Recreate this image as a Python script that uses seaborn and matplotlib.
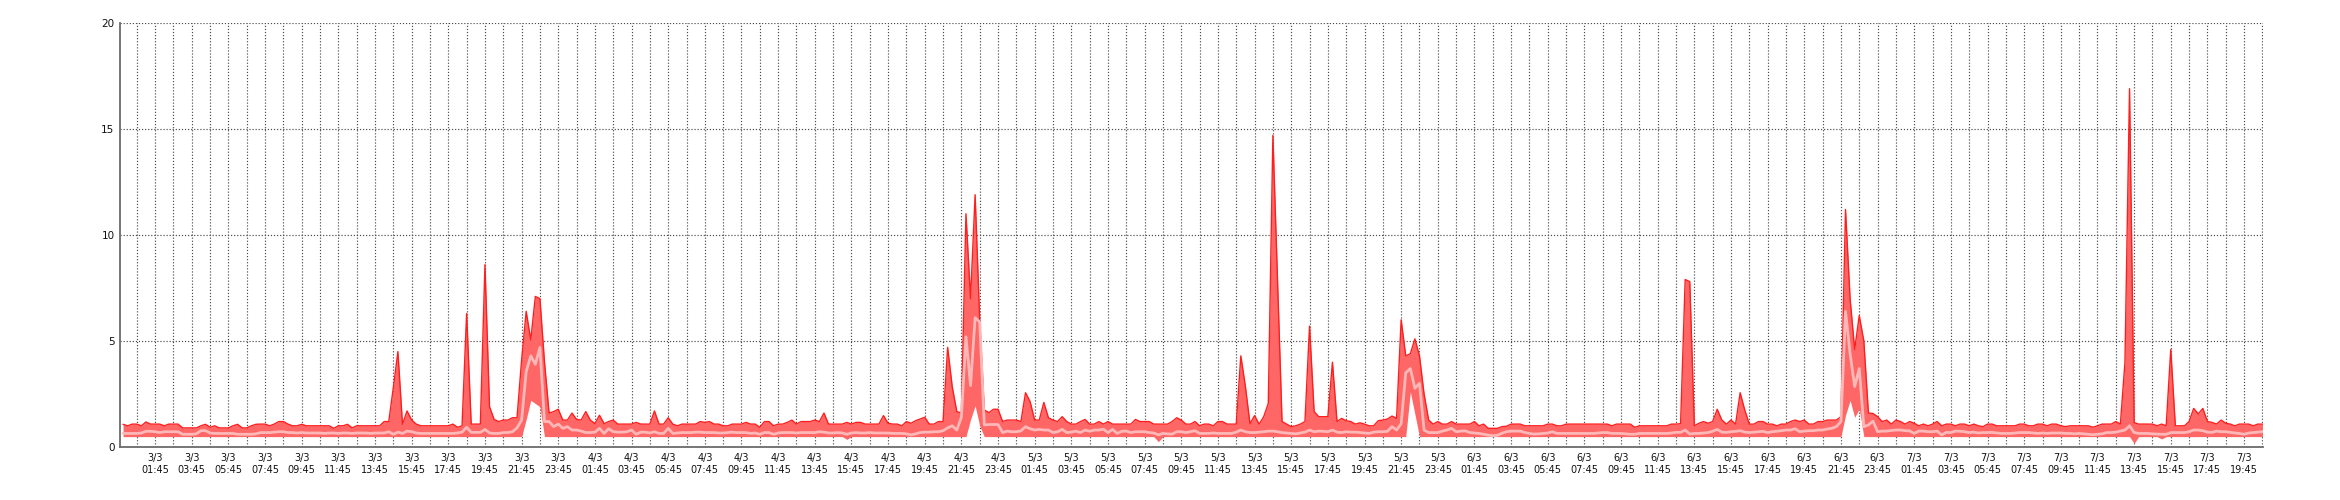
import matplotlib
matplotlib.use("Agg")
import matplotlib.pyplot as plt
import seaborn as sns
import pandas as pd
import numpy as np

# ---- data (15-minute samples starting 3/3 00:00) ----
start_time = "2024-03-03 00:00"
sample_freq = "15min"

max_vals = [
    # 3/3 00:00 - 19:30
    1.07, 1.0, 1.08, 1.08, 1.0, 1.18, 1.08, 1.08, 1.08, 1.0, 1.08, 1.08, 1.08, 0.9, 0.9, 0.9,
    0.9, 1.0, 1.07, 0.93, 1.0, 0.9, 0.9, 0.9, 1.0, 1.07, 0.9, 0.9, 1.0, 1.07, 1.08, 1.08,
    1.0, 1.08, 1.2, 1.2, 1.08, 1.0, 1.0, 1.07, 1.0, 1.0, 1.0, 1.0, 1.0, 1.0, 0.88, 1.0,
    1.0, 1.07, 0.9, 1.0, 1.0, 1.0, 1.0, 1.0, 1.0, 1.2, 1.2, 2.8, 4.5, 1.07, 1.7, 1.27,
    1.08, 1.0, 1.0, 1.0, 1.0, 1.0, 1.0, 1.0, 1.08, 0.93, 1.0, 6.3, 1.08, 1.08, 1.08,
    # q79 - q155
    8.6, 1.9, 1.3, 1.2, 1.27, 1.27, 1.38, 1.38, 4.1, 6.4, 5.05, 7.1, 7.0, 4.0, 1.6, 1.67,
    1.78, 1.27, 1.27, 1.6, 1.3, 1.27, 1.67, 1.27, 1.1, 1.5, 1.1, 1.2, 1.27, 1.08, 1.08, 1.08,
    1.08, 1.16, 1.08, 1.08, 1.08, 1.7, 1.08, 1.08, 1.38, 1.08, 1.0, 1.08, 1.08, 1.08, 1.08, 1.2,
    1.16, 1.2, 1.08, 1.08, 1.0, 1.0, 1.08, 1.08, 1.08, 1.16, 1.08, 1.08, 0.93, 1.2, 1.2, 1.0,
    1.08, 1.08, 1.16, 1.27, 1.08, 1.2, 1.2, 1.2, 1.27, 1.2, 1.6, 1.08, 1.08,
    # q156 - q234
    1.08, 1.08, 1.16, 1.08, 1.16, 1.16, 1.08, 1.08, 1.08, 1.08, 1.48, 1.12, 1.08, 1.08, 1.0, 1.2,
    1.12, 1.24, 1.32, 1.4, 1.08, 1.08, 1.2, 1.2, 4.7, 2.85, 1.67, 1.6, 11.0, 7.0, 11.9, 6.0,
    1.75, 1.62, 1.78, 1.78, 1.2, 1.27, 1.27, 1.27, 1.2, 2.56, 2.14, 1.27, 1.27, 2.1, 1.38, 1.27,
    1.2, 1.43, 1.2, 1.08, 1.08, 1.2, 1.3, 1.08, 1.08, 1.2, 1.08, 1.2, 1.08, 1.08, 1.08, 1.08,
    1.08, 1.3, 1.2, 1.2, 1.2, 1.08, 1.08, 1.08, 1.08, 1.2, 1.38, 1.27, 1.08, 1.08, 1.2,
    # q235 - q312
    1.0, 1.08, 1.08, 1.0, 1.2, 1.2, 1.08, 1.08, 1.08, 4.3, 2.85, 1.1, 1.48, 1.08, 1.43, 2.06,
    14.7, 8.0, 1.2, 1.08, 0.96, 1.0, 1.08, 1.2, 5.7, 1.67, 1.43, 1.43, 1.43, 4.0, 1.2, 1.35,
    1.24, 1.2, 1.08, 1.14, 1.08, 1.0, 1.0, 1.24, 1.27, 1.32, 1.46, 1.35, 6.0, 4.3, 4.4, 5.1,
    4.3, 2.5, 1.27, 1.08, 1.2, 1.08, 1.08, 1.2, 1.08, 1.08, 1.08, 1.08, 1.2, 1.0, 1.08, 0.88,
    0.88, 0.88, 0.96, 0.98, 1.08, 1.08, 1.08, 1.0, 1.0, 1.0, 1.0, 1.0, 1.08, 1.08,
    # q313 - q390
    1.0, 1.0, 1.08, 1.08, 1.08, 1.08, 1.08, 1.08, 1.08, 1.08, 1.08, 1.08, 1.0, 1.08, 1.08, 1.08,
    1.08, 0.93, 1.0, 1.0, 1.0, 1.0, 1.0, 1.0, 1.0, 1.08, 1.08, 1.1, 7.9, 7.8, 1.0, 1.12,
    1.2, 1.12, 1.2, 1.78, 1.27, 1.08, 1.27, 1.08, 2.56, 1.75, 1.08, 1.08, 1.2, 1.2, 1.08, 1.08,
    1.0, 1.08, 1.08, 1.2, 1.27, 1.2, 1.27, 1.08, 1.08, 1.2, 1.2, 1.27, 1.27, 1.27, 1.43, 11.2,
    7.0, 4.6, 6.2, 5.0, 1.6, 1.58, 1.43, 1.2, 1.27, 1.08, 1.27, 1.2, 1.08, 1.2,
    # q391 - q467
    1.12, 1.0, 1.08, 1.0, 1.08, 1.2, 1.0, 1.08, 1.08, 1.0, 1.08, 1.08, 1.0, 1.08, 1.0, 0.96,
    1.08, 1.08, 1.0, 1.0, 1.0, 1.0, 1.0, 1.08, 1.08, 1.0, 1.0, 1.08, 1.08, 1.0, 1.08, 1.08,
    1.0, 0.96, 1.0, 1.0, 1.0, 1.0, 1.0, 0.93, 1.0, 1.08, 1.08, 1.08, 1.2, 1.08, 4.0, 16.9,
    1.15, 1.08, 1.08, 1.08, 1.08, 1.0, 1.08, 1.0, 4.6, 1.0, 1.0, 1.0, 1.2, 1.82, 1.56, 1.82,
    1.2, 1.16, 1.08, 1.27, 1.12, 1.08, 1.0, 1.08, 1.08, 1.08, 1.0, 1.08, 1.08,
]

avg_vals = [
    # q0 - q78
    0.64, 0.64, 0.64, 0.64, 0.66, 0.74, 0.74, 0.72, 0.68, 0.72, 0.72, 0.72, 0.72, 0.6, 0.6, 0.6,
    0.62, 0.77, 0.77, 0.66, 0.64, 0.64, 0.64, 0.64, 0.64, 0.6, 0.6, 0.6, 0.6, 0.62, 0.68, 0.68,
    0.68, 0.7, 0.72, 0.72, 0.68, 0.68, 0.66, 0.68, 0.66, 0.66, 0.66, 0.66, 0.64, 0.66, 0.66, 0.64,
    0.66, 0.66, 0.64, 0.66, 0.66, 0.66, 0.64, 0.66, 0.66, 0.66, 0.72, 0.6, 0.7, 0.64, 0.75, 0.72,
    0.66, 0.64, 0.64, 0.64, 0.64, 0.64, 0.64, 0.64, 0.64, 0.66, 0.7, 0.93, 0.69, 0.69, 0.69,
    # q79 - q155
    0.83, 0.66, 0.64, 0.64, 0.68, 0.68, 0.72, 0.9, 1.27, 3.55, 4.3, 3.9, 4.7, 1.2, 1.2, 0.96,
    1.08, 0.88, 0.96, 0.8, 0.8, 0.75, 0.68, 0.68, 0.7, 0.88, 0.64, 0.86, 0.72, 0.7, 0.7, 0.72,
    0.8, 0.6, 0.7, 0.7, 0.66, 0.72, 0.64, 0.64, 0.88, 0.64, 0.66, 0.68, 0.68, 0.68, 0.7, 0.7,
    0.68, 0.68, 0.68, 0.66, 0.66, 0.68, 0.7, 0.68, 0.68, 0.68, 0.64, 0.66, 0.6, 0.68, 0.68, 0.6,
    0.66, 0.68, 0.68, 0.68, 0.66, 0.68, 0.68, 0.68, 0.68, 0.72, 0.7, 0.66, 0.66,
    # q156 - q234
    0.68, 0.66, 0.6, 0.66, 0.68, 0.66, 0.66, 0.68, 0.66, 0.66, 0.66, 0.66, 0.64, 0.64, 0.64, 0.62,
    0.57, 0.62, 0.68, 0.7, 0.7, 0.72, 0.72, 0.77, 0.9, 1.0, 0.8, 1.4, 5.2, 2.9, 6.1, 5.9,
    1.04, 1.06, 1.06, 1.06, 0.68, 0.75, 0.72, 0.72, 0.76, 0.96, 0.86, 0.8, 0.83, 0.8, 0.8, 0.68,
    0.72, 0.83, 0.68, 0.7, 0.75, 0.68, 0.8, 0.74, 0.8, 0.8, 0.84, 0.68, 0.83, 0.64, 0.74, 0.75,
    0.68, 0.72, 0.72, 0.72, 0.68, 0.66, 0.57, 0.64, 0.62, 0.61, 0.72, 0.72, 0.68, 0.72, 0.77,
    # q235 - q312
    0.64, 0.64, 0.64, 0.66, 0.64, 0.64, 0.64, 0.64, 0.7, 0.8, 0.72, 0.68, 0.68, 0.7, 0.72, 0.75,
    0.75, 0.72, 0.68, 0.66, 0.64, 0.62, 0.66, 0.7, 0.8, 0.72, 0.75, 0.74, 0.72, 0.8, 0.7, 0.68,
    0.72, 0.7, 0.7, 0.68, 0.66, 0.64, 0.7, 0.72, 0.72, 0.74, 0.96, 0.8, 1.1, 3.5, 3.7, 2.77,
    3.0, 0.8, 0.68, 0.68, 0.68, 0.75, 0.8, 0.88, 0.72, 0.75, 0.76, 0.68, 0.66, 0.64, 0.6, 0.56,
    0.53, 0.55, 0.65, 0.72, 0.75, 0.75, 0.75, 0.68, 0.64, 0.61, 0.62, 0.64, 0.66, 0.72,
    # q313 - q390
    0.64, 0.64, 0.64, 0.64, 0.64, 0.64, 0.64, 0.64, 0.64, 0.66, 0.68, 0.68, 0.64, 0.64, 0.64, 0.62,
    0.6, 0.6, 0.64, 0.64, 0.64, 0.64, 0.64, 0.64, 0.64, 0.66, 0.69, 0.69, 0.8, 0.61, 0.64, 0.64,
    0.66, 0.68, 0.74, 0.83, 0.7, 0.69, 0.72, 0.74, 0.77, 0.7, 0.68, 0.7, 0.72, 0.74, 0.68, 0.72,
    0.74, 0.77, 0.8, 0.8, 0.86, 0.72, 0.75, 0.77, 0.77, 0.8, 0.8, 0.85, 0.88, 0.96, 1.2, 6.4,
    4.4, 2.85, 3.7, 0.96, 1.04, 1.22, 0.72, 0.75, 0.75, 0.78, 0.8, 0.8, 0.77, 0.76,
    # q391 - q467
    0.64, 0.75, 0.75, 0.72, 0.72, 0.75, 0.57, 0.69, 0.68, 0.75, 0.74, 0.72, 0.68, 0.7, 0.66, 0.68,
    0.68, 0.69, 0.66, 0.64, 0.64, 0.64, 0.66, 0.68, 0.68, 0.68, 0.66, 0.64, 0.66, 0.64, 0.66, 0.66,
    0.66, 0.64, 0.64, 0.62, 0.64, 0.62, 0.6, 0.58, 0.6, 0.62, 0.68, 0.68, 0.7, 0.75, 0.8, 1.0,
    0.68, 0.64, 0.64, 0.64, 0.62, 0.61, 0.6, 0.6, 0.68, 0.68, 0.68, 0.68, 0.72, 0.8, 0.8, 0.77,
    0.7, 0.69, 0.75, 0.72, 0.72, 0.69, 0.66, 0.64, 0.6, 0.66, 0.68, 0.7, 0.72,
]

# minimum series: baseline with the listed deviations
min_base = 0.49
min_vals = [min_base] * len(max_vals)
min_exceptions = {
    88: 1.3, 89: 2.2, 90: 2.05, 91: 1.9,
    158: 0.36,
    185: 1.3, 186: 1.95, 187: 1.0,
    226: 0.25,
    281: 2.6, 282: 1.55,
    376: 1.5, 377: 2.2, 378: 1.4, 379: 1.8,
    439: 0.17, 445: 0.38,
}
for k, v in min_exceptions.items():
    min_vals[k] = v

y_ticks = [0, 5, 10, 15, 20]

# ---- build frame ----
times = pd.date_range(start_time, periods=len(max_vals), freq=sample_freq)
df = pd.DataFrame({"time": times, "max": max_vals, "avg": avg_vals, "min": min_vals})

sns.set_style("white")
plt.rcParams["font.family"] = ["DejaVu Sans"]

fig = plt.figure(figsize=(23.4, 5.0), dpi=100)
ax = fig.add_axes([120 / 2340, 1 - 447 / 500, (2263 - 120) / 2340, (447 - 23) / 500])

ax.fill_between(df["time"], df["min"], df["max"], color="#ff6666", lw=0, zorder=2)
sns.lineplot(data=df, x="time", y="max", ax=ax, color="#ff1e1e", lw=1.0, zorder=3)
sns.lineplot(data=df, x="time", y="avg", ax=ax, color="#ffb8b8", lw=2.0, zorder=4)

# x axis: hourly grid at :45, labels every 2 hours
grid_hours = pd.date_range("2024-03-03 00:45", "2024-03-07 20:45", freq="1h")
labels = [t.strftime("%-d/%-m\n%H:%M") if i % 2 == 1 else "" for i, t in enumerate(grid_hours)]
ax.set_xticks(grid_hours)
ax.set_xticklabels(labels, fontsize=7, color="#111111", linespacing=1.35)
ax.set_xlim(pd.Timestamp("2024-03-02 23:50"), pd.Timestamp("2024-03-07 20:47"))

ax.set_ylim(0, 20)
ax.set_yticks(y_ticks)
ax.set_yticklabels([str(v) for v in y_ticks], fontsize=7.5, color="#111111")

ax.tick_params(axis="both", length=0)
ax.tick_params(axis="x", pad=4)
ax.tick_params(axis="y", pad=4)

ax.grid(True, color="#4a4a4a", linestyle=(0, (1.0, 1.6)), lw=0.85)
ax.set_axisbelow(True)
ax.set_xlabel("")
ax.set_ylabel("")

for side in ["top", "right"]:
    ax.spines[side].set_visible(False)
for side in ["left", "bottom"]:
    ax.spines[side].set_color("#6b6b6b")
    ax.spines[side].set_linewidth(1.3)

fig.savefig("out.png", dpi=100, facecolor="white")
